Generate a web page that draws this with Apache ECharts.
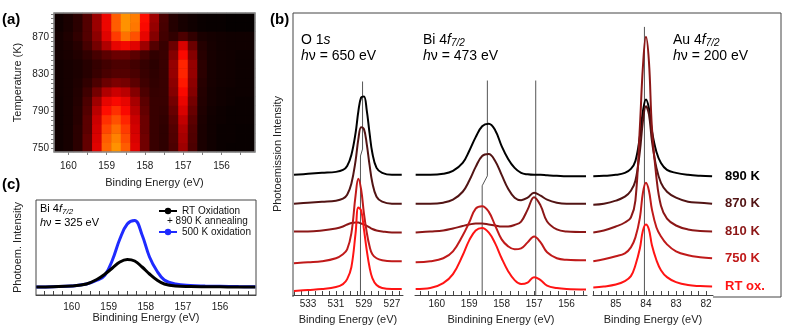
<!DOCTYPE html>
<html>
<head>
<meta charset="utf-8">
<script src="https://cdn.jsdelivr.net/npm/echarts@6/dist/echarts.min.js"></script>
<style>
html, body { margin: 0; padding: 0; background: #fff; }
#chart { width: 793px; height: 330px; }
</style>
</head>
<body>
<div id="chart"></div>
<script>
const FONT = 'Liberation Sans';

// (a) Bi 4f intensity map: binding energy columns x temperature rows (bottom -> top)
const heatE = [160.25, 160.0, 159.75, 159.5, 159.25, 159.0, 158.75, 158.5, 158.25, 158.0, 157.75,
  157.5, 157.25, 157.0, 156.75, 156.5, 156.25, 156.0, 155.75, 155.5, 155.25];
const heatT = [751, 761, 771, 781, 791, 801, 811, 821, 831, 841, 851, 861, 871, 881, 891];
const heatI = [
  [0.6, 0.9, 1.6, 3.2, 6.2, 8.8, 9.6, 8.6, 6.2, 3.5, 2.0, 1.7, 2.6, 4.6, 2.6, 1.0, 0.6, 0.4, 0.3, 0.3, 0.3],
  [0.6, 0.9, 1.6, 3.2, 6.0, 8.6, 9.3, 8.3, 6.0, 3.5, 2.0, 1.7, 2.7, 4.8, 2.7, 1.0, 0.6, 0.4, 0.4, 0.3, 0.3],
  [0.6, 0.9, 1.6, 3.0, 5.8, 8.2, 8.9, 8.0, 5.8, 3.4, 2.0, 1.7, 2.8, 5.0, 2.8, 1.0, 0.6, 0.4, 0.4, 0.3, 0.3],
  [0.6, 0.9, 1.5, 3.0, 5.6, 7.8, 8.4, 7.6, 5.6, 3.4, 2.0, 1.8, 3.0, 5.4, 3.0, 1.1, 0.6, 0.5, 0.4, 0.4, 0.4],
  [0.6, 0.9, 1.5, 2.8, 5.2, 7.2, 7.8, 7.0, 5.2, 3.2, 2.0, 1.9, 3.3, 6.0, 3.3, 1.2, 0.7, 0.5, 0.4, 0.4, 0.4],
  [0.6, 0.9, 1.4, 2.6, 4.6, 6.4, 7.0, 6.4, 4.8, 3.0, 2.0, 2.0, 3.6, 6.5, 3.6, 1.3, 0.8, 0.6, 0.5, 0.4, 0.4],
  [0.7, 0.9, 1.3, 2.2, 3.6, 5.0, 5.6, 5.2, 4.0, 2.6, 1.9, 2.0, 4.0, 7.0, 4.0, 1.4, 0.8, 0.6, 0.5, 0.5, 0.5],
  [0.7, 0.9, 1.2, 1.8, 2.6, 3.4, 3.8, 3.6, 3.0, 2.2, 1.8, 2.0, 4.2, 7.4, 4.2, 1.5, 0.9, 0.7, 0.6, 0.5, 0.5],
  [0.7, 0.9, 1.1, 1.5, 2.0, 2.5, 2.8, 2.8, 2.5, 2.0, 1.7, 2.0, 4.4, 7.6, 4.4, 1.6, 0.9, 0.7, 0.6, 0.5, 0.5],
  [0.7, 0.9, 1.1, 1.5, 1.9, 2.3, 2.6, 2.6, 2.3, 1.9, 1.6, 2.0, 4.4, 7.6, 4.4, 1.6, 0.9, 0.7, 0.6, 0.5, 0.5],
  [0.8, 1.0, 1.3, 1.8, 2.4, 3.0, 3.4, 3.4, 3.0, 2.4, 1.8, 2.0, 4.0, 7.0, 4.0, 1.5, 0.9, 0.7, 0.6, 0.5, 0.5],
  [0.8, 1.1, 1.5, 2.4, 3.6, 5.0, 6.4, 6.8, 6.2, 4.6, 2.8, 2.0, 3.4, 6.0, 3.4, 1.4, 0.9, 0.7, 0.6, 0.6, 0.6],
  [0.8, 1.2, 1.8, 2.8, 4.2, 6.2, 8.0, 9.0, 8.4, 6.4, 4.0, 2.3, 1.8, 2.6, 1.8, 1.0, 0.8, 0.7, 0.6, 0.6, 0.6],
  [0.6, 1.0, 1.6, 2.8, 4.5, 6.6, 8.6, 9.6, 9.1, 7.0, 4.4, 2.4, 1.4, 0.9, 0.6, 0.4, 0.3, 0.3, 0.2, 0.2, 0.2],
  [0.6, 1.0, 1.6, 2.8, 4.5, 6.6, 8.6, 9.6, 9.2, 7.2, 4.6, 2.5, 1.4, 0.9, 0.6, 0.4, 0.3, 0.3, 0.2, 0.2, 0.2]
];

// (b) O 1s, hv = 650 eV (stacked spectra, arb. units)
const oE = [534, 533, 532, 531, 530.5, 530.2, 529.9, 529.6, 529.4, 529.2, 529.0, 528.8, 528.6, 528.4, 528.1, 527.7, 527, 526.3];
const o890 = [121, 122, 123, 124, 126, 130, 141, 163, 185, 199, 200, 186, 163, 143, 128, 123, 121, 121];
const o870 = [92, 93, 94, 95, 97, 101, 112, 135, 157, 169, 167, 152, 131, 113, 99, 94, 92, 92];
const o810 = [64, 64, 65, 67, 69, 71, 72.5, 73, 73, 72, 71, 69.5, 68, 66.5, 65, 64, 63, 63];
const o750 = [32, 33, 34, 37, 41, 46, 62, 100, 117, 106, 82, 63, 49, 41, 37, 35, 34, 34];
const oRT = [4, 5, 6, 8, 11, 16, 28, 62, 88, 85, 66, 45, 28, 17, 10, 7, 6, 6];
const oLine = [[529.1, 215], [529.1, 147], [529.25, 140], [529.25, 0]];

// (b) Bi 4f7/2, hv = 473 eV
const biE = [160.65, 160.2, 159.8, 159.5, 159.2, 159.0, 158.8, 158.6, 158.4, 158.2, 158.0, 157.8, 157.6, 157.4, 157.2, 157.0, 156.8, 156.6, 156.3, 156.0, 155.4];
const bi890 = [121, 121, 122, 125, 133, 145, 159, 170, 172.5, 166, 150, 137, 128, 123, 121.5, 121, 121, 120.5, 120, 119.5, 119.5];
const bi870 = [92, 92, 93, 96, 104, 115, 129, 140, 142, 135, 121, 107, 98, 95.5, 98, 103, 100, 96, 93, 92, 92];
const bi810 = [63, 64, 65, 67, 69.5, 71, 72, 72, 71, 70, 69, 69, 70.5, 74, 86, 98.5, 90, 74, 66, 64, 63.5];
const bi750 = [33, 34, 37, 44, 60, 73, 87, 89.5, 84, 70, 56, 49, 46, 47, 53, 59, 53, 43, 37, 35.5, 35];
const biRT = [6, 7, 12, 21, 40, 55, 65, 67.5, 63, 52, 37, 24, 15, 11, 12.5, 18, 15, 9.5, 7, 6, 5.5];
const biLineA = [[158.44, 216], [158.44, 120], [158.6, 110], [158.6, 0]];
const biLineB = [[156.95, 216], [156.95, 0]];

// (b) Au 4f7/2, hv = 200 eV
const auE = [85.75, 85.4, 85.0, 84.7, 84.5, 84.35, 84.2, 84.1, 84.0, 83.9, 83.8, 83.65, 83.5, 83.3, 83.0, 82.6, 82.2, 81.8];
const au890 = [119.5, 120, 121, 123, 127, 135, 160, 185, 197, 188, 165, 144, 133, 126, 123, 121, 120, 119.5];
const au870 = [91, 92, 95, 99, 105, 115, 145, 175, 190, 182, 155, 128, 113, 104, 98, 94, 93, 92];
const au810 = [63, 65, 69, 73, 78, 95, 170, 230, 260, 235, 168, 118, 90, 77, 70, 66, 64.5, 64];
const au750 = [34, 36, 39, 42, 48, 58, 78, 103, 113, 105, 86, 68, 59, 51, 44, 40, 38, 37];
const auRT = [7.5, 8.5, 10.5, 14, 19, 30, 47, 65, 71, 66, 50, 35, 25, 18, 13, 10, 9, 8.5];
const auLine = [[84.05, 270], [84.05, 0]];

// (c) Bi 4f7/2, hv = 325 eV
const cE = [160.95, 160.5, 160, 159.6, 159.3, 159.1, 158.9, 158.7, 158.5, 158.3, 158.1, 157.9, 157.7, 157.5, 157.2, 156.8, 156.4, 156, 155.5, 155.05];
const cRT890 = [8, 8.3, 9, 11, 16, 21, 27, 33, 35.5, 34, 28, 21, 15, 11, 9, 8.5, 8.3, 8.2, 8, 8];
const c500 = [8, 8.3, 9, 11, 15, 20, 35, 56, 71, 74.5, 60, 38, 24, 15, 11, 9.5, 9, 8.7, 8.4, 8.3];

// tick labels
const aXLabels = [160, 159, 158, 157, 156];
const aYLabels = [750, 790, 830, 870];
const oLabels = [533, 531, 529, 527];
const biLabels = [160, 159, 158, 157, 156];
const auLabels = [85, 84, 83, 82];
const cLabels = [160, 159, 158, 157, 156];

const tempNames = ['890 K', '870 K', '810 K', '750 K', 'RT ox.'];
const tempColors = ['#000000', '#521414', '#8c1717', '#c01a1a', '#ff1414'];

function range(a, b, s) {
  const out = [];
  for (let v = a; v <= b + 1e-9; v += s) out.push(+v.toFixed(3));
  return out;
}

const chart = echarts.init(document.getElementById('chart'));

const heatData = [];
heatI.forEach((row, j) => row.forEach((v, i) => heatData.push([i, j, v])));

function energyAxis(gi, min, max, labels, ticks, name, extra) {
  return Object.assign({
    gridIndex: gi, type: 'value', min, max, inverse: true, position: 'bottom',
    axisLine: { show: true, lineStyle: { color: '#444', width: 1 } },
    axisTick: { show: true, inside: true, length: 4, customValues: ticks, lineStyle: { color: '#444' } },
    axisLabel: { customValues: labels, fontSize: 10, color: '#222', margin: 4, fontFamily: FONT },
    splitLine: { show: false },
    name, nameLocation: 'middle', nameGap: 19,
    nameTextStyle: { fontSize: 11, color: '#222', fontFamily: FONT }
  }, extra || {});
}

function hiddenY(gi, max, name, gap) {
  return {
    gridIndex: gi, type: 'value', min: 0, max,
    axisLine: { show: false }, axisTick: { show: false }, axisLabel: { show: false },
    splitLine: { show: false },
    name: name || '', nameLocation: 'middle', nameGap: gap || 10,
    nameTextStyle: { fontSize: 11, color: '#222', fontFamily: FONT }
  };
}

function curve(name, ai, es, vs, color, extra) {
  return Object.assign({
    type: 'line', name, xAxisIndex: ai, yAxisIndex: ai,
    data: es.map((e, i) => [e, vs[i]]),
    symbol: 'none', smooth: 0.4, lineStyle: { color, width: 2 }, itemStyle: { color },
    z: 3, silent: true
  }, extra || {});
}

function refLine(ai, pts) {
  return {
    type: 'line', xAxisIndex: ai, yAxisIndex: ai, data: pts, symbol: 'none',
    lineStyle: { color: '#555', width: 1 }, z: 2, silent: true
  };
}

const oSets = [o890, o870, o810, o750, oRT];
const biSets = [bi890, bi870, bi810, bi750, biRT];
const auSets = [au890, au870, au810, au750, auRT];

const series = [{
  type: 'heatmap', xAxisIndex: 1, yAxisIndex: 1, data: heatData,
  itemStyle: { borderWidth: 0 }, silent: true
}];
series.push(refLine(2, oLine), refLine(3, biLineA), refLine(3, biLineB), refLine(4, auLine));
tempNames.forEach((n, k) => {
  series.push(curve(n, 2, oE, oSets[k], tempColors[k]));
  series.push(curve(n, 3, biE, biSets[k], tempColors[k]));
  series.push(curve(n, 4, auE, auSets[k], tempColors[k], {
    endLabel: {
      show: true, formatter: '{a}', color: tempColors[k], fontWeight: 'bold', fontSize: 13,
      fontFamily: FONT, align: 'left', distance: -13
    }
  }));
});
series.push(curve('500 K oxidation', 5, cE, c500, '#1f2bff', {
  symbol: 'circle', symbolSize: 6, showSymbol: false, lineStyle: { color: '#1f2bff', width: 3 }
}));
series.push(curve('RT Oxidation', 5, cE, cRT890, '#000000', {
  symbol: 'circle', symbolSize: 6, showSymbol: false, lineStyle: { color: '#000000', width: 3 }
}));

const richB = {
  n: { fontSize: 14, fontFamily: FONT, color: '#111', lineHeight: 16 },
  i: { fontSize: 14, fontFamily: FONT, fontStyle: 'italic', color: '#111', lineHeight: 16 },
  s: { fontSize: 10, fontFamily: FONT, fontStyle: 'italic', color: '#111', lineHeight: 8, verticalAlign: 'bottom' }
};
const richC = {
  n: { fontSize: 11, fontFamily: FONT, color: '#111', lineHeight: 14 },
  i: { fontSize: 11, fontFamily: FONT, fontStyle: 'italic', color: '#111', lineHeight: 14 },
  s: { fontSize: 8, fontFamily: FONT, fontStyle: 'italic', color: '#111', lineHeight: 7, verticalAlign: 'bottom' }
};

const option = {
  animation: false,
  backgroundColor: '#fff',
  textStyle: { fontFamily: FONT },
  grid: [
    { left: 54, top: 13, width: 201, height: 139, show: true, backgroundColor: '#2a0000', borderWidth: 0 },
    { left: 293, top: 13, width: 110, height: 284 },
    { left: 415, top: 13, width: 172, height: 284 },
    { left: 593, top: 13, width: 120, height: 284 },
    { left: 36, top: 200, width: 220, height: 95, show: true, borderColor: '#444', borderWidth: 1 }
  ],
  visualMap: {
    show: false, type: 'continuous', min: 0, max: 10, seriesIndex: 0, dimension: 2,
    inRange: { color: ['#000000', '#250000', '#550000', '#900000', '#d00000', '#ff0a00', '#ff5a00', '#ffa800'] }
  },
  xAxis: [
    {
      gridIndex: 0, type: 'value', min: 155.125, max: 160.375, inverse: true, position: 'bottom',
      axisLine: { show: false },
      axisTick: { show: true, inside: false, length: 3, customValues: range(155.5, 160, 0.5), lineStyle: { color: '#808080' } },
      axisLabel: { customValues: aXLabels, fontSize: 10, color: '#222', margin: 9, fontFamily: FONT },
      splitLine: { show: false },
      name: 'Binding Energy (eV)', nameLocation: 'middle', nameGap: 25,
      nameTextStyle: { fontSize: 11, color: '#222', fontFamily: FONT }
    },
    { gridIndex: 0, type: 'category', data: heatE.map(String), show: false, position: 'top' },
    energyAxis(1, 526.21, 534.07, oLabels, range(526.5, 534, 0.5), 'Binding Energy (eV)'),
    energyAxis(2, 155.37, 160.67, biLabels, range(155.5, 160.5, 0.25), 'Bindining Energy (eV)'),
    energyAxis(3, 81.77, 85.76, auLabels, range(82, 85.75, 0.25), 'Binding Energy (eV)'),
    energyAxis(4, 155.03, 160.96, cLabels, range(155.25, 160.75, 0.25), 'Bindining Energy (eV)', {
      axisLabel: { customValues: cLabels, fontSize: 10, color: '#222', margin: 7, fontFamily: FONT }, nameGap: 17
    })
  ],
  yAxis: [
    {
      gridIndex: 0, type: 'value', min: 746, max: 896,
      axisLine: { show: false },
      axisTick: { show: true, inside: false, length: 3, customValues: range(750, 895, 5), lineStyle: { color: '#808080' } },
      axisLabel: { customValues: aYLabels, fontSize: 10, color: '#222', margin: 5, fontFamily: FONT },
      splitLine: { show: false },
      name: 'Temperature (K)', nameLocation: 'middle', nameGap: 31,
      nameTextStyle: { fontSize: 11, color: '#222', fontFamily: FONT }
    },
    { gridIndex: 0, type: 'category', data: heatT.map(String), show: false, position: 'right' },
    hiddenY(1, 284, 'Photoemission Intensity', 10),
    hiddenY(2, 284),
    hiddenY(3, 284),
    hiddenY(4, 95, 'Photoem. Intensity', 13)
  ],
  legend: [
    {
      data: ['RT Oxidation'], left: 153, top: 201, itemWidth: 18, itemHeight: 8,
      textStyle: { fontSize: 10, color: '#111', fontFamily: FONT }, selectedMode: false
    },
    {
      data: ['500 K oxidation'], left: 153, top: 222, itemWidth: 18, itemHeight: 8,
      textStyle: { fontSize: 10, color: '#111', fontFamily: FONT }, selectedMode: false
    }
  ],
  graphic: [
    { type: 'rect', shape: { x: 54, y: 13, width: 201, height: 139 }, style: { fill: 'none', stroke: '#8c8c8c', lineWidth: 1.5 }, z: 100, silent: true },
    { type: 'polyline', shape: { points: [[713, 297], [781, 297], [781, 13], [293, 13], [293, 297]] }, style: { fill: 'none', stroke: '#444', lineWidth: 1 }, z: 100, silent: true },
    { type: 'text', left: 2, top: 12, style: { text: '(a)', font: 'bold 15px ' + FONT, fill: '#000' } },
    { type: 'text', left: 270, top: 12, style: { text: '(b)', font: 'bold 15px ' + FONT, fill: '#000' } },
    { type: 'text', left: 2, top: 177, style: { text: '(c)', font: 'bold 15px ' + FONT, fill: '#000' } },
    { type: 'text', left: 301, top: 33, style: { text: '{n|O 1}{i|s}\n{i|h}{n|ν = 650 eV}', rich: richB } },
    { type: 'text', left: 423, top: 33, style: { text: '{n|Bi 4}{i|f}{s|7/2}\n{i|h}{n|ν = 473 eV}', rich: richB } },
    { type: 'text', left: 673, top: 33, style: { text: '{n|Au 4}{i|f}{s|7/2}\n{i|h}{n|ν = 200 eV}', rich: richB } },
    { type: 'text', left: 40, top: 203, style: { text: '{n|Bi 4}{i|f}{s|7/2}\n{i|h}{n|ν = 325 eV}', rich: richC } },
    { type: 'text', left: 167, top: 216, style: { text: '+ 890 K annealing', font: '10px ' + FONT, fill: '#111' } }
  ],
  series
};

chart.setOption(option);
</script>
</body>
</html>
